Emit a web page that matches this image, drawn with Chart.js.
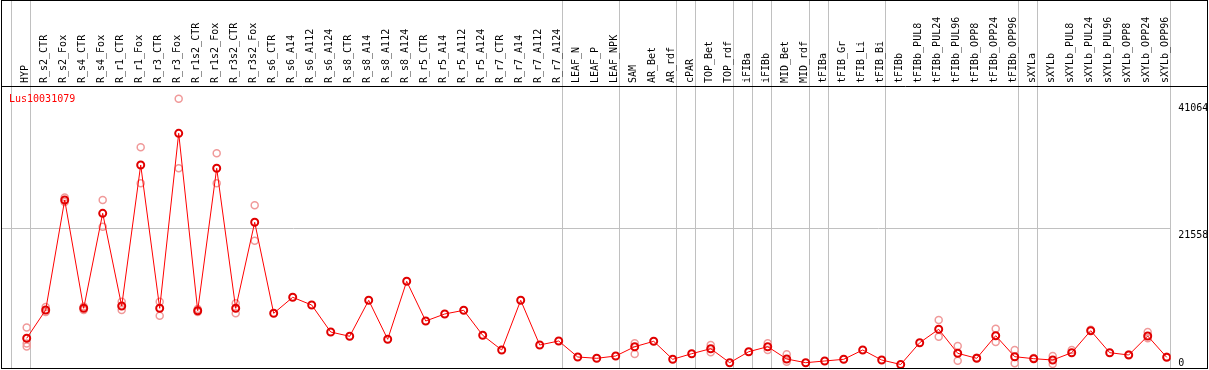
<!DOCTYPE html>
<html>
<head>
<meta charset="utf-8">
<script src="https://cdn.jsdelivr.net/npm/chart.js@4.4.0/dist/chart.umd.min.js"></script>
<style>
  html, body { margin: 0; padding: 0; background: #fff; }
  #wrap { width: 1209px; height: 370px; }
</style>
</head>
<body>
<div id="wrap"><canvas id="c" width="1209" height="370"></canvas></div>
<script>
const geneId = 'Lus10031079';

const samples = [
  'HYP', 'R_s2_CTR', 'R_s2_Fox', 'R_s4_CTR', 'R_s4_Fox', 'R_r1_CTR', 'R_r1_Fox', 'R_r3_CTR', 'R_r3_Fox',
  'R_r1s2_CTR', 'R_r1s2_Fox', 'R_r3s2_CTR', 'R_r3s2_Fox', 'R_s6_CTR', 'R_s6_A14', 'R_s6_A112', 'R_s6_A124',
  'R_s8_CTR', 'R_s8_A14', 'R_s8_A112', 'R_s8_A124', 'R_r5_CTR', 'R_r5_A14', 'R_r5_A112', 'R_r5_A124',
  'R_r7_CTR', 'R_r7_A14', 'R_r7_A112', 'R_r7_A124', 'LEAF_N', 'LEAF_P', 'LEAF_NPK', 'SAM', 'AR_Bet', 'AR_rdf',
  'cPAR', 'TOP_Bet', 'TOP_rdf', 'iFIBa', 'iFIBb', 'MID_Bet', 'MID_rdf', 'tFIBa', 'tFIB_Gr', 'tFIB_Li', 'tFIB_Bi',
  'tFIBb', 'tFIBb_PUL8', 'tFIBb_PUL24', 'tFIBb_PUL96', 'tFIBb_OPP8', 'tFIBb_OPP24', 'tFIBb_OPP96',
  'sXYLa', 'sXYLb', 'sXYLb_PUL8', 'sXYLb_PUL24', 'sXYLb_PUL96', 'sXYLb_OPP8', 'sXYLb_OPP24', 'sXYLb_OPP96'
];

// mean expression per sample
const meanLevel = [
  4581, 8947, 25914, 9209, 23862, 9564, 31313, 9209, 36202, 8839, 30804, 9209, 22474,
  8437, 10905, 9718, 5553, 4890, 10443, 4427, 13373, 7250, 8330, 8900, 5044, 2777, 10443, 3548, 4165,
  1697, 1496, 1851, 3286, 4118, 1342, 2206, 2977, 818, 2514, 3286, 1388, 818,
  1080, 1342, 2777, 1234, 540, 3903, 5969, 2267, 1496, 4982, 1743,
  1435, 1234, 2360, 5754, 2360, 2005, 4936, 1650
];

// individual replicates (null = hidden under the mean marker)
const rep1 = [
  6247, 9409, 26300, 9486, 25914, 10227, 34043, 10227, 41539, 9101, 33118, 9980, 25097,
  null, null, null, null, null, null, null, null, null, null, null, null, null, null, null, null,
  null, null, null, 3810, null, null, null, 3548, null, null, 3810, 2113, null,
  null, null, null, null, null, null, 7404, 3394, 1600, 6062, 2777,
  1550, 1851, 2777, 5900, null, 2100, 5553, 1750
];
const rep2 = [
  3779, 8638, 25606, 8947, 21796, 8947, 28490, 8067, 30804, 8638, 28490, 8437, 19636,
  null, null, null, null, null, null, null, null, null, null, null, null, null, null, null, null,
  null, null, null, 2160, null, null, null, 2422, null, null, 2777, 972, null,
  null, null, null, null, null, null, 4828, 1126, null, 4011, 725,
  null, 617, null, null, null, null, 4581, null
];
const rep3 = [
  3316, null, null, null, null, null, null, null, null, null, null, null, null,
  null, null, null, null, null, null, null, null, null, null, null, null, null, null, null, null,
  null, null, null, null, null, null, null, null, null, null, null, null, null,
  null, null, null, null, null, null, null, null, null, null, null,
  null, null, null, null, null, null, null, null
];

// first sample index of each tissue group (last entry closes the final group)
const groupStarts = [0, 1, 29, 32, 35, 36, 38, 39, 40, 42, 43, 46, 53, 54, 61];
const yTickValues = [41064, 21558, 0];
const yGridValues = [21558];

const xMin = -1.3526, xMax = 60.21;
const monoFont = '"DejaVu Sans Mono", monospace';

const toPts = arr => arr.map((v, i) => ({ x: i, y: v })).filter(p => p.y !== null);

const noPad = s => { s.paddingLeft = 0; s.paddingRight = 0; s.paddingTop = 0; s.paddingBottom = 0; };

const repStyle = {
  showLine: false,
  pointRadius: 3.5,
  pointBorderWidth: 1.5,
  pointBorderColor: '#f09a9a',
  pointBackgroundColor: 'rgba(0,0,0,0)',
  xAxisID: 'x',
  yAxisID: 'y'
};

const frame = {
  id: 'frame',
  afterDraw(chart) {
    const { ctx, chartArea, scales } = chart;
    ctx.save();
    ctx.strokeStyle = '#000';
    ctx.lineWidth = 1;
    ctx.strokeRect(1.5, 0.5, chart.width - 3, chartArea.bottom);
    ctx.beginPath();
    ctx.moveTo(1, chartArea.top + 0.5);
    ctx.lineTo(chart.width - 2, chartArea.top + 0.5);
    ctx.stroke();

    ctx.font = '10px ' + monoFont;
    ctx.fillStyle = '#ff0000';
    ctx.textBaseline = 'alphabetic';
    ctx.fillText(geneId, 9, chartArea.top + 15.5);

    ctx.fillStyle = '#000';
    ctx.textBaseline = 'top';
    const ys = scales.y;
    yTickValues.forEach(v => {
      const py = Math.min(ys.getPixelForValue(v) + 2, chartArea.bottom - 10);
      ctx.fillText(String(v), ys.left + 7.5, py);
    });
    ctx.restore();
  }
};

new Chart(document.getElementById('c'), {
  type: 'line',
  data: {
    datasets: [
      {
        label: geneId,
        data: toPts(meanLevel),
        borderColor: '#ff0000',
        borderWidth: 1,
        tension: 0,
        pointRadius: 3.5,
        pointBorderWidth: 2,
        pointBorderColor: '#e00000',
        pointBackgroundColor: 'rgba(0,0,0,0)',
        xAxisID: 'x',
        yAxisID: 'y'
      },
      { label: 'rep1', data: toPts(rep1), ...repStyle },
      { label: 'rep2', data: toPts(rep2), ...repStyle },
      { label: 'rep3', data: toPts(rep3), ...repStyle }
    ]
  },
  options: {
    responsive: false,
    animation: false,
    devicePixelRatio: 1,
    events: [],
    layout: { autoPadding: false, padding: { left: 1, right: 2, top: 0, bottom: 2 } },
    plugins: { legend: { display: false }, tooltip: { enabled: false } },
    scales: {
      x: {
        type: 'linear',
        position: 'top',
        weight: 1,
        min: xMin,
        max: xMax,
        afterBuildTicks: s => { s.ticks = samples.map((_, i) => ({ value: i })); },
        afterFit: s => { s.height = 86; noPad(s); },
        grid: { display: false, drawTicks: false },
        border: { display: false },
        ticks: {
          autoSkip: false,
          minRotation: 90,
          maxRotation: 90,
          padding: 3,
          labelOffset: 11,
          color: '#000',
          font: { family: monoFont, size: 10 },
          callback: v => samples[Math.round(v)]
        }
      },
      groups: {
        type: 'linear',
        position: 'top',
        weight: 0,
        min: xMin,
        max: xMax,
        afterBuildTicks: s => { s.ticks = groupStarts.map(g => ({ value: g - 0.79 })); },
        afterFit: s => { s.height = 0; noPad(s); },
        ticks: { display: false },
        border: { display: false },
        grid: { color: '#c0c0c0', lineWidth: 1, drawTicks: true, tickLength: 86 }
      },
      y: {
        type: 'linear',
        position: 'right',
        min: 0,
        max: 43500,
        afterBuildTicks: s => { s.ticks = yGridValues.map(v => ({ value: v })); },
        afterFit: s => { s.width = 36.3; noPad(s); },
        ticks: { display: false },
        border: { display: false },
        grid: { color: '#c0c0c0', lineWidth: 1, drawTicks: false }
      }
    }
  },
  plugins: [frame]
});
</script>
</body>
</html>
